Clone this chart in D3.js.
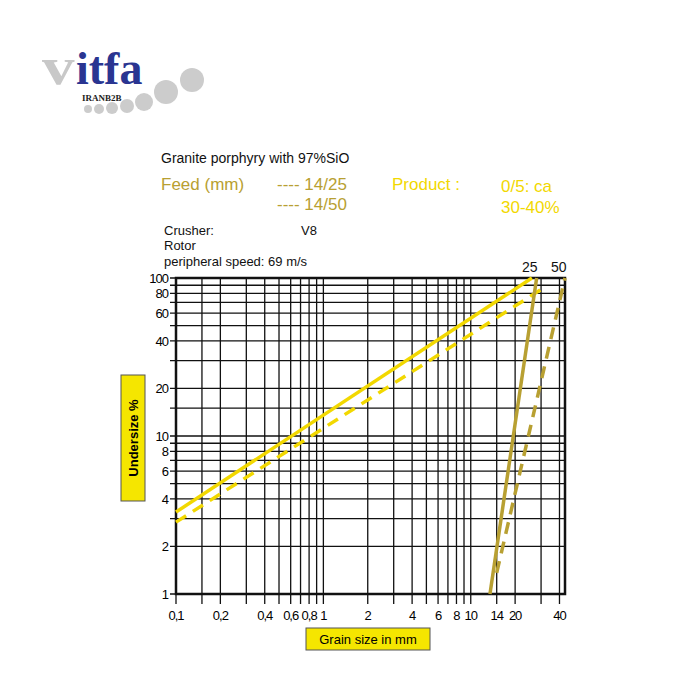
<!DOCTYPE html>
<html><head><meta charset="utf-8">
<script src="https://cdn.jsdelivr.net/npm/d3@7"></script>
<style>body{margin:0;background:#fff}</style></head>
<body><svg id="c" width="700" height="700"></svg>
<script>
const xGrid = [0.1,0.15,0.2,0.3,0.4,0.5,0.6,0.7,0.8,0.9,1,2,3,4,5,6,7,8,9,10,15,20,30,40];
const xLabels = [[0.1,"0,1"],[0.2,"0,2"],[0.4,"0,4"],[0.6,"0,6"],[0.8,"0,8"],[1,"1"],[2,"2"],[4,"4"],[6,"6"],[8,"8"],[10,"10"],[15,"14"],[20,"20"],[40,"40"]];
const yGrid = [1,2,3,4,5,6,7,8,9,10,15,20,30,40,50,60,70,80,90,100];
const yLabels = [1,2,4,6,8,10,20,40,60,80,100];
const feed25 = [[0.1,3.3],[26,100]];
const feed50 = [[0.1,2.85],[32,88]];
const prod25 = [[13.5,1],[28,100]];
const prod50 = [[15,1.36],[43.6,100]];
const yellow = "#f2d800", olive = "#b8a032";

const svg = d3.select("#c");
const x = d3.scaleLog().domain([0.1,43.6]).range([176,565]);
const y = d3.scaleLog().domain([1,100]).range([594,278]);

// logo
const logo = svg.append("g");
[[88,109,4],[99,109,5],[112,108,6],[127,106,7],[144,102,9],[166,92,12],[192,80,12]].forEach(d=>
  logo.append("circle").attr("cx",d[0]).attr("cy",d[1]).attr("r",d[2]).attr("fill","#ccc"));
logo.append("text").attr("x",42).attr("y",84).attr("font-family","Liberation Serif").attr("font-weight","bold")
  .attr("font-size",52).attr("fill","#c8c8c8").attr("transform","translate(42,84) scale(1.25,1) translate(-42,-84)").text("v");
logo.append("text").attr("x",76).attr("y",84).attr("font-family","Liberation Serif").attr("font-weight","bold")
  .attr("font-size",46).attr("fill","#2a3591").text("itfa");
logo.append("text").attr("x",82).attr("y",101).attr("font-family","Liberation Serif").attr("font-weight","bold")
  .attr("font-size",9).attr("fill","#222").text("IRANB2B");

// header texts
const t = (xx,yy,s,c,fs)=>svg.append("text").attr("x",xx).attr("y",yy).attr("font-family","Liberation Sans")
  .attr("font-size",fs||13).attr("fill",c||"#111").text(s);
t(161,163,"Granite porphyry with 97%SiO",null,14);
t(161,190,"Feed (mm)",olive,17);
t(277,190,"---- 14/25",olive,17);
t(277,210,"---- 14/50",olive,17);
t(392,190,"Product :",yellow,17);
t(501,192,"0/5: ca",yellow,17);
t(501,213,"30-40%",yellow,17);
t(164,235,"Crusher:");
t(301,235,"V8");
t(164,250,"Rotor");
t(164,266,"peripheral speed: 69 m/s");
t(522,272,"25",null,14);
t(551,272,"50",null,14);

// grid
const g = svg.append("g").attr("stroke","#111").attr("stroke-width",1.3);
xGrid.forEach(v=>g.append("line").attr("x1",x(v)).attr("x2",x(v)).attr("y1",278).attr("y2",604));
yGrid.forEach(v=>g.append("line").attr("x1",170).attr("x2",565).attr("y1",y(v)).attr("y2",y(v)));
svg.append("rect").attr("x",176).attr("y",278).attr("width",389).attr("height",316)
  .attr("fill","none").attr("stroke","#111").attr("stroke-width",2.5);

xLabels.forEach(d=>svg.append("text").attr("x",x(d[0])).attr("y",620).attr("text-anchor","middle")
  .attr("font-family","Liberation Sans").attr("font-size",13).attr("letter-spacing",-1).text(d[1]));
yLabels.forEach(v=>svg.append("text").attr("x",168).attr("y",y(v)+5).attr("text-anchor","end")
  .attr("font-family","Liberation Sans").attr("font-size",13).attr("letter-spacing",-1).text(v));

// lines
const line = d3.line().x(d=>x(d[0])).y(d=>y(d[1]));
const draw = (data,c,dash)=>svg.append("path").datum(data).attr("d",line).attr("fill","none")
  .attr("stroke",c).attr("stroke-width",3.5).attr("stroke-dasharray",dash||null);
draw(feed25,yellow);
draw(feed50,yellow,"12,8");
draw(prod25,olive);
draw(prod50,olive,"12,8");

// axis label boxes
svg.append("rect").attr("x",306).attr("y",628).attr("width",124).attr("height",22)
  .attr("fill","#f5e600").attr("stroke","#555");
svg.append("text").attr("x",368).attr("y",644).attr("text-anchor","middle").attr("font-family","Liberation Sans")
  .attr("font-size",13).text("Grain size in mm");
svg.append("rect").attr("x",121).attr("y",375).attr("width",24).attr("height",126)
  .attr("fill","#f5e600").attr("stroke","#555");
svg.append("text").attr("transform","translate(138,438) rotate(-90)").attr("text-anchor","middle")
  .attr("font-family","Liberation Sans").attr("font-weight","bold").attr("font-size",13).text("Undersize %");
</script></body></html>
